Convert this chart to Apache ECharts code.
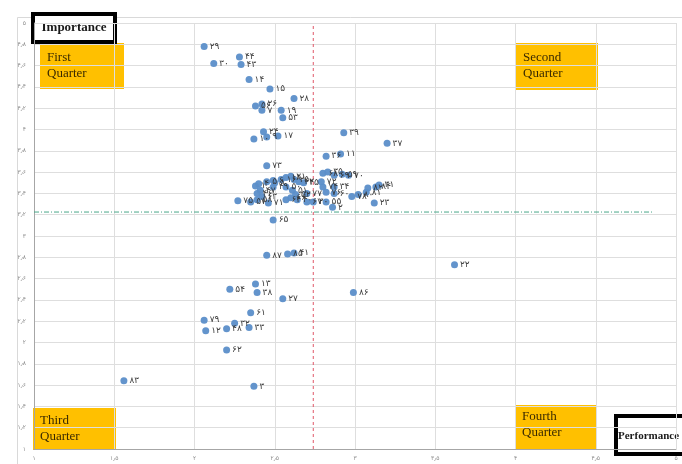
<!DOCTYPE html>
<html>
<head>
<meta charset="utf-8">
<script src="https://cdn.jsdelivr.net/npm/echarts@6/dist/echarts.min.js"></script>
<style>
  html, body { margin: 0; padding: 0; background: #fff; }
  #main { width: 682px; height: 464px; }
</style>
</head>
<body>
<div id="main"></div>
<script>
// point numbers (shown as labels), performance (x) and importance (y)
var ids = [29,30,44,43,14,15,28,56,26,7,19,53,10,24,9,17,39,37,11,36,73,
           1,4,5,6,8,16,18,21,25,42,45,46,47,49,50,51,52,75,57,58,63,71,64,66,40,67,
           68,35,69,59,70,72,74,34,76,60,77,20,55,2,78,80,81,82,84,31,23,65,
           87,85,41,22,54,13,38,27,86,61,79,12,48,32,33,62,3,83];
var perf = [2.06,2.12,2.28,2.29,2.34,2.47,2.62,2.38,2.42,2.42,2.54,2.55,2.37,2.43,2.45,2.52,2.93,3.20,2.91,2.82,2.45,
            2.38,2.40,2.45,2.49,2.50,2.54,2.57,2.60,2.62,2.65,2.68,2.39,2.41,2.49,2.57,2.61,2.63,2.27,2.35,2.39,2.42,2.46,2.57,2.60,2.64,2.70,
            2.80,2.83,2.87,2.92,2.96,2.79,2.80,2.87,2.82,2.87,2.70,2.74,2.82,2.86,2.98,3.02,3.07,3.08,3.13,3.15,3.12,2.49,
            2.45,2.58,2.62,3.62,2.22,2.38,2.39,2.55,2.99,2.35,2.06,2.07,2.20,2.25,2.34,2.20,2.37,1.56];
var imp = [4.78,4.62,4.68,4.61,4.47,4.38,4.29,4.22,4.24,4.18,4.18,4.11,3.91,3.98,3.93,3.94,3.97,3.87,3.77,3.75,3.66,
           3.47,3.49,3.51,3.52,3.50,3.53,3.55,3.56,3.53,3.51,3.50,3.40,3.43,3.46,3.46,3.43,3.39,3.33,3.32,3.34,3.37,3.31,3.34,3.36,3.34,3.32,
           3.59,3.60,3.57,3.58,3.57,3.51,3.46,3.46,3.41,3.40,3.40,3.32,3.32,3.27,3.37,3.39,3.41,3.45,3.46,3.48,3.31,3.15,
           2.82,2.83,2.84,2.73,2.50,2.55,2.47,2.41,2.47,2.28,2.21,2.11,2.13,2.18,2.14,1.93,1.59,1.64];

var meanPerf = 2.74;   // red dashed line
var meanImp = 3.225;   // green dash-dot line
var meanImpEnd = 4.86;

var faDigits = '۰۱۲۳۴۵۶۷۸۹';
function fa(v) {
    var s = String(Math.round(v * 10) / 10);
    return s.replace(/\d/g, function (d) { return faDigits[d]; }).replace('.', '٫');
}

var pts = [];
for (var i = 0; i < ids.length; i++) {
    pts.push({ value: [perf[i], imp[i]], name: fa(ids[i]) });
}

var chart = echarts.init(document.getElementById('main'));

var serif = '"Liberation Serif", "DejaVu Serif", serif';

function quarterBox(x, y, w, h, line1, line2, dy) {
    return {
        type: 'group', left: x, top: y, z: 100,
        children: [
            { type: 'rect', shape: { x: 0, y: 0, width: w, height: h }, style: { fill: '#FFC000' } },
            { type: 'text', x: 7, y: dy, style: { text: line1 + '\n' + line2, fill: '#3a2a00', font: '13px ' + serif, lineHeight: 16 } }
        ]
    };
}

var option = {
    backgroundColor: '#fff',
    animation: false,
    grid: { left: 34, top: 23, right: 6, bottom: 15 },
    xAxis: {
        type: 'value', min: 1, max: 5, interval: 0.5,
        axisLine: { show: true, lineStyle: { color: '#a6a6a6' } },
        axisTick: { show: false },
        splitLine: { show: true, lineStyle: { color: '#dedede' } },
        axisLabel: { formatter: fa, fontSize: 6, color: '#8c8c8c', margin: 6, fontFamily: 'DejaVu Sans' }
    },
    yAxis: {
        type: 'value', min: 1, max: 5, interval: 0.2,
        axisLine: { show: true, lineStyle: { color: '#a6a6a6' } },
        axisTick: { show: false },
        splitLine: { show: true, lineStyle: { color: '#dedede' } },
        axisLabel: { formatter: fa, fontSize: 6, color: '#8c8c8c', margin: 8, fontFamily: 'DejaVu Sans' }
    },
    series: [
        {
            type: 'line', data: [[meanPerf, 1], [meanPerf, 5]], symbol: 'none',
            lineStyle: { color: '#e0596a', width: 1, type: [3, 3] }, z: 1
        },
        {
            type: 'line', data: [[1, meanImp], [meanImpEnd, meanImp]], symbol: 'none',
            lineStyle: { color: '#4aa88a', width: 1, type: [5, 2, 1, 2] }, z: 1
        },
        {
            type: 'scatter', data: pts, symbolSize: 7,
            itemStyle: { color: '#5b8ec9', opacity: 0.95 },
            label: {
                show: true, position: 'right', distance: 2,
                formatter: function (p) { return p.name; },
                fontSize: 9, color: '#333', fontFamily: 'DejaVu Sans'
            },
            labelLayout: { hideOverlap: false },
            z: 3
        }
    ],
    graphic: [
        { type: 'rect', left: 15, top: 15, z: 0, shape: { width: 680, height: 460 }, style: { fill: 'none', stroke: '#d9d9d9', lineWidth: 1 } },
        quarterBox(40, 43, 84, 46, 'First', 'Quarter', 7),
        quarterBox(516, 43, 82, 47, 'Second', 'Quarter', 7),
        quarterBox(33, 408, 83, 42, 'Third', 'Quarter', 5),
        quarterBox(515, 405, 82, 45, 'Fourth', 'Quarter', 4),
        {
            type: 'group', left: 31, top: 12, z: 110,
            children: [
                { type: 'rect', shape: { x: 2, y: 2, width: 82, height: 28 }, style: { fill: '#fff', stroke: '#000', lineWidth: 4 } },
                { type: 'text', x: 43, y: 16, style: { text: 'Importance', fill: '#1a1a1a', font: 'bold 13px ' + serif, align: 'center', verticalAlign: 'middle' } }
            ]
        },
        {
            type: 'group', left: 614, top: 414, z: 110,
            children: [
                { type: 'rect', shape: { x: 2, y: 2, width: 90, height: 38 }, style: { fill: '#fff', stroke: '#000', lineWidth: 4 } },
                { type: 'text', x: 4, y: 22, style: { text: 'Performance', fill: '#1a1a1a', font: 'bold 11px ' + serif, verticalAlign: 'middle' } }
            ]
        }
    ]
};

chart.setOption(option);
</script>
</body>
</html>
